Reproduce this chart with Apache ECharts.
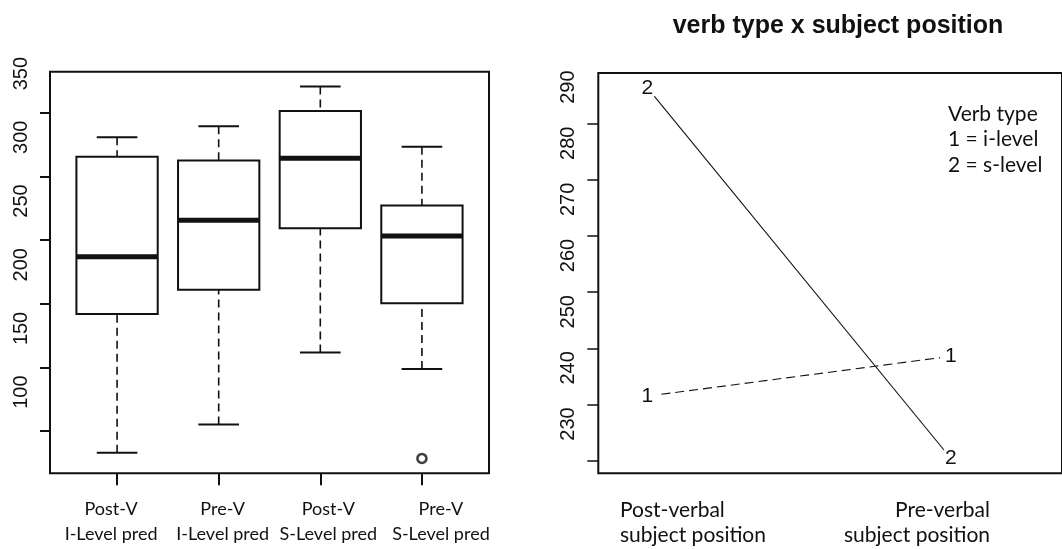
<!DOCTYPE html>
<html><head><meta charset="utf-8">
<script src="https://cdn.jsdelivr.net/npm/echarts@6/dist/echarts.min.js"></script>
<style>html,body{margin:0;padding:0;background:#fff}#c{width:1062px;height:549px}</style>
</head><body><div id="c"></div>
<script>
// ---- Left panel: boxplots ----
const boxCategories = ['Post-V\nI-Level pred', 'Pre-V\nI-Level pred', 'Post-V\nS-Level pred', 'Pre-V\nS-Level pred'];
const boxLow    = [83.0, 105.3, 161.8, 148.7];
const boxQ1     = [191.9, 211.0, 259.2, 200.3];
const boxMedian = [236.9, 265.5, 314.2, 253.2];
const boxQ3     = [315.4, 312.3, 351.3, 277.0];
const boxHigh   = [330.7, 339.3, 370.4, 323.1];
const outlierCategory = ['Pre-V\nS-Level pred'];
const outlierValue    = [78.6];
const leftYTicks = [100, 150, 200, 250, 300, 350];

// ---- Right panel: interaction plot ----
const titleText = 'verb type x subject position';
const positionLabels = ['Post-verbal\nsubject position', 'Pre-verbal\nsubject position'];
const positionX = [1, 2];
const iLevelMeans = [241.5, 248.6];   // verb type 1
const sLevelMeans = [296.4, 230.4];   // verb type 2
const traceMarks = ['1', '2'];
const rightYTicks = [230, 240, 250, 260, 270, 280, 290];
const legendLines = ['Verb type', '1 = i-level', '2 = s-level'];

const INK = '#111';

function padRange(vals) {
  const lo = Math.min(...vals), hi = Math.max(...vals), r = hi - lo;
  return [lo - 0.04 * r, hi + 0.04 * r];
}
const [lMin, lMax] = padRange([...boxLow, ...boxHigh, ...outlierValue]);
const [rMin, rMax] = padRange([...iLevelMeans, ...sLevelMeans]);

// layout
const L = {left: 50, top: 71.7, width: 439, height: 401.6};
const band = L.width / 4.32;                    // R's 4% axis extension around 0.5..4.5
const Linner = {left: L.left + 0.16 * band, width: 4 * band};
const R = {left: 598.3, top: 73, bottom: 75.7, right: -10};
const rHeight = 549 - R.top - R.bottom;
const leftLabelShift = 39 * (lMax - lMin) / L.height;
const rightLabelShift = 36.7 * (rMax - rMin) / rHeight;

const catShift = [-6, 4, 8, 19];
const rich = {};
catShift.forEach((d, i) => {
  rich['s' + i] = {
    fontFamily: 'Lato', fontSize: 18, lineHeight: 25, color: INK,
    padding: d >= 0 ? [0, 0, 0, 2 * d] : [0, -2 * d, 0, 0]
  };
});

const chart = echarts.init(document.getElementById('c'), null, {renderer: 'canvas'});

const hiddenAxis = {splitLine: {show: false}, axisLine: {show: false}, axisTick: {show: false}, axisLabel: {show: false}};

const option = {
  animation: false,
  backgroundColor: '#fff',
  title: {
    text: titleText, left: 833, top: 9, textAlign: 'center',
    textStyle: {fontFamily: 'Liberation Sans', fontWeight: 'bold', fontSize: 25, color: INK}
  },
  grid: [
    {left: L.left, top: L.top, width: L.width, height: L.height, show: true,
     borderColor: INK, borderWidth: 2, backgroundColor: 'transparent'},
    {left: R.left, top: R.top, right: R.right, bottom: R.bottom, show: true,
     borderColor: INK, borderWidth: 2, backgroundColor: 'transparent'},
    {left: Linner.left, top: L.top, width: Linner.width, height: L.height, show: false}
  ],
  xAxis: [
    Object.assign({type: 'value', gridIndex: 0, min: 0, max: 1}, hiddenAxis),
    Object.assign({type: 'value', gridIndex: 1, min: 0.838, max: 2.366}, hiddenAxis),
    {type: 'category', gridIndex: 2, data: boxCategories, boundaryGap: true,
     splitLine: {show: false}, axisLine: {show: false},
     axisTick: {show: true, alignWithLabel: true, interval: 0, length: 12, lineStyle: {color: INK, width: 2}},
     axisLabel: {show: true, interval: 0, margin: 23,
       formatter: (v) => {
         const i = boxCategories.indexOf(v);
         return v.split('\n').map(p => '{s' + i + '|' + p + '}').join('\n');
       }, rich: rich}}
  ],
  yAxis: [
    {type: 'value', gridIndex: 0, min: lMin, max: lMax,
     splitLine: {show: false}, axisLine: {show: false},
     axisTick: {show: true, customValues: leftYTicks, length: 10, lineStyle: {color: INK, width: 2}},
     axisLabel: {show: false}},
    {type: 'value', gridIndex: 0, position: 'left', min: lMin - leftLabelShift, max: lMax - leftLabelShift,
     splitLine: {show: false}, axisLine: {show: false}, axisTick: {show: false},
     axisLabel: {show: true, customValues: leftYTicks, rotate: 90, margin: 18.5,
       fontFamily: 'Liberation Sans', fontSize: 20, color: INK}},
    {type: 'value', gridIndex: 1, min: rMin, max: rMax,
     splitLine: {show: false}, axisLine: {show: false},
     axisTick: {show: true, customValues: rightYTicks, length: 11, lineStyle: {color: INK, width: 1.5}},
     axisLabel: {show: false}},
    {type: 'value', gridIndex: 1, position: 'left', min: rMin - rightLabelShift, max: rMax - rightLabelShift,
     splitLine: {show: false}, axisLine: {show: false}, axisTick: {show: false},
     axisLabel: {show: true, customValues: rightYTicks, rotate: 90, margin: 19.5,
       fontFamily: 'Liberation Sans', fontSize: 20, color: INK}},
    Object.assign({type: 'value', gridIndex: 2, min: lMin, max: lMax}, hiddenAxis)
  ],
  graphic: [
    {type: 'text', x: 948, y: 101,
     style: {text: legendLines.join('\n'), font: '21px Lato', lineHeight: 25.5, fill: INK,
       align: 'left', verticalAlign: 'top'}},
    {type: 'text', x: 620, y: 498,
     style: {text: positionLabels[0], font: '21px Lato', lineHeight: 25, fill: INK,
       align: 'left', verticalAlign: 'top'}},
    {type: 'text', x: 990, y: 498,
     style: {text: positionLabels[1], font: '21px Lato', lineHeight: 25, fill: INK,
       align: 'right', verticalAlign: 'top'}}
  ],
  series: [
    {
      type: 'custom', xAxisIndex: 2, yAxisIndex: 4, silent: true,
      data: boxCategories.map((c, i) => [i, boxLow[i], boxQ1[i], boxMedian[i], boxQ3[i], boxHigh[i]]),
      renderItem: (params, api) => {
        const x = api.value(0);
        const lo = api.coord([x, api.value(1)]);
        const q1 = api.coord([x, api.value(2)]);
        const md = api.coord([x, api.value(3)]);
        const q3 = api.coord([x, api.value(4)]);
        const hi = api.coord([x, api.value(5)]);
        const bw = api.size([1, 0])[0] * 0.8;
        const cw = bw / 2;
        const cx = md[0];
        const dash = {stroke: INK, lineWidth: 1.6, lineDash: [8, 5]};
        const solid = {stroke: INK, lineWidth: 2};
        return {type: 'group', children: [
          {type: 'line', shape: {x1: cx, y1: hi[1], x2: cx, y2: q3[1]}, style: dash},
          {type: 'line', shape: {x1: cx, y1: lo[1], x2: cx, y2: q1[1]}, style: dash},
          {type: 'line', shape: {x1: cx - cw / 2, y1: hi[1], x2: cx + cw / 2, y2: hi[1]}, style: solid},
          {type: 'line', shape: {x1: cx - cw / 2, y1: lo[1], x2: cx + cw / 2, y2: lo[1]}, style: solid},
          {type: 'rect', shape: {x: cx - bw / 2, y: q3[1], width: bw, height: q1[1] - q3[1]},
           style: {fill: '#fff', stroke: INK, lineWidth: 2}},
          {type: 'line', shape: {x1: cx - bw / 2, y1: md[1], x2: cx + bw / 2, y2: md[1]},
           style: {stroke: INK, lineWidth: 5}}
        ]};
      }
    },
    {
      type: 'scatter', xAxisIndex: 2, yAxisIndex: 4, silent: true,
      data: outlierCategory.map((c, i) => [c, outlierValue[i]]),
      symbol: 'circle', symbolSize: 9,
      itemStyle: {color: '#fff', borderColor: INK, borderWidth: 2.6}
    },
    {
      name: '1 = i-level', type: 'line', xAxisIndex: 1, yAxisIndex: 2, silent: true,
      data: positionX.map((x, i) => [x, iLevelMeans[i]]),
      lineStyle: {color: INK, width: 1.1, type: [9, 5]},
      symbol: 'circle', symbolSize: 22, itemStyle: {color: '#fff', borderWidth: 0},
      label: {show: true, position: 'inside', formatter: traceMarks[0],
        fontFamily: 'Liberation Sans', fontSize: 21, color: INK}
    },
    {
      name: '2 = s-level', type: 'line', xAxisIndex: 1, yAxisIndex: 2, silent: true,
      data: positionX.map((x, i) => [x, sLevelMeans[i]]),
      lineStyle: {color: INK, width: 1.1, type: 'solid'},
      symbol: 'circle', symbolSize: 22, itemStyle: {color: '#fff', borderWidth: 0},
      label: {show: true, position: 'inside', formatter: traceMarks[1],
        fontFamily: 'Liberation Sans', fontSize: 21, color: INK}
    }
  ]
};
chart.setOption(option);
</script>
</body></html>
